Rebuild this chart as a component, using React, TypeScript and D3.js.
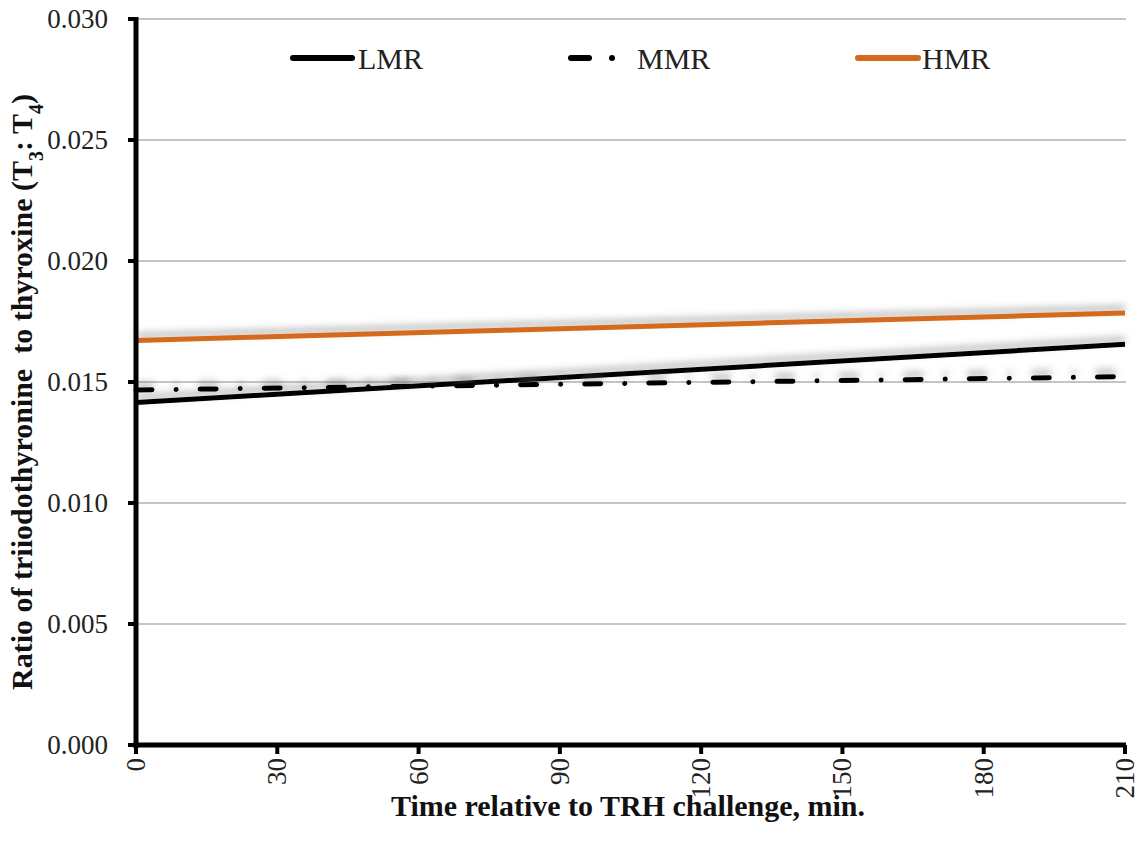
import React from "react";
import * as d3 from "d3";

const times = [0, 210];
const lmr = [0.01415, 0.01656];
const mmr = [0.01467, 0.01522];
const hmr = [0.01672, 0.01785];
const yTicks = [0, 0.005, 0.01, 0.015, 0.02, 0.025, 0.03];
const xTicks = [0, 30, 60, 90, 120, 150, 180, 210];
const seriesNames = ["LMR", "MMR", "HMR"];

const W = 1145;
const H = 851;
const FONT = "'Liberation Serif', 'Times New Roman', serif";
const ORANGE = "#D5691E";

export default function App() {
  const x = d3.scaleLinear().domain([0, 210]).range([136, 1125]);
  const y = d3.scaleLinear().domain([0, 0.03]).range([745, 19]);
  const line = d3
    .line<number>()
    .x((_, i) => x(times[i]))
    .y((d) => y(d));

  return (
    <svg
      width={W}
      height={H}
      style={{ position: "absolute", left: 0, top: 0, background: "#fff" }}
      fontFamily={FONT}
    >
      <defs>
        <filter id="shadow" x="-5%" y="-200%" width="110%" height="500%">
          <feGaussianBlur in="SourceAlpha" stdDeviation="3.5" result="b" />
          <feOffset in="b" dy="-5" result="o" />
          <feFlood floodColor="#666" floodOpacity="0.5" result="f" />
          <feComposite in="f" in2="o" operator="in" result="s" />
          <feMerge>
            <feMergeNode in="s" />
            <feMergeNode in="SourceGraphic" />
          </feMerge>
        </filter>
      </defs>
      <rect width={W} height={H} fill="#fff" />
      {/* grid */}
      {yTicks
        .filter((t) => t > 0)
        .map((t) => (
          <line
            key={"g" + t}
            x1={136}
            x2={1126}
            y1={y(t)}
            y2={y(t)}
            stroke="#8c8c8c"
            strokeWidth={1.2}
          />
        ))}
      {/* series */}
      <path
        d={line(hmr) || ""}
        fill="none"
        stroke={ORANGE}
        strokeWidth={5}
        filter="url(#shadow)"
      />
      <path
        d={line(lmr) || ""}
        fill="none"
        stroke="#000"
        strokeWidth={5}
        filter="url(#shadow)"
      />
      <path
        d={line(mmr) || ""}
        fill="none"
        stroke="#000"
        strokeWidth={5}
        strokeDasharray="16 24 0.1 24"
        strokeLinecap="round"
        filter="url(#shadow)"
      />
      {/* axes */}
      <line x1={136} x2={136} y1={17} y2={748} stroke="#000" strokeWidth={5} />
      <line x1={133.5} x2={1126} y1={745} y2={745} stroke="#000" strokeWidth={5} />
      {yTicks.map((t) => (
        <g key={"yt" + t}>
          <line x1={128} x2={136} y1={y(t)} y2={y(t)} stroke="#000" strokeWidth={4} />
          <text
            x={108}
            y={y(t)}
            textAnchor="end"
            dominantBaseline="central"
            fontSize={27}
            fill="#222"
          >
            {d3.format(".3f")(t)}
          </text>
        </g>
      ))}
      {xTicks.map((t) => (
        <g key={"xt" + t}>
          <line x1={x(t)} x2={x(t)} y1={745} y2={754} stroke="#000" strokeWidth={4} />
          <text
            transform={`translate(${x(t)},758) rotate(-90)`}
            textAnchor="end"
            dominantBaseline="central"
            fontSize={27}
            fill="#222"
          >
            {t}
          </text>
        </g>
      ))}
      {/* axis titles */}
      <text
        x={628}
        y={816}
        textAnchor="middle"
        fontSize={30}
        fontWeight="bold"
        fill="#111"
      >
        Time relative to TRH challenge, min.
      </text>
      <text
        transform="translate(32,392) rotate(-90)"
        textAnchor="middle"
        fontSize={30}
        fontWeight="bold"
        fill="#111"
        style={{ whiteSpace: "pre" }}
      >
        {"Ratio of triiodothyronine  to thyroxine (T"}
        <tspan baselineShift="sub" fontSize={20}>3</tspan>
        <tspan>{": T"}</tspan>
        <tspan baselineShift="sub" fontSize={20}>4</tspan>
        <tspan>)</tspan>
      </text>
      {/* legend */}
      <line x1={293} x2={352} y1={58} y2={58} stroke="#000" strokeWidth={6} strokeLinecap="round" />
      <text x={358} y={58} dominantBaseline="central" fontSize={30} fill="#222">
        {seriesNames[0]}
      </text>
      <line x1={571} x2={589} y1={58} y2={58} stroke="#000" strokeWidth={6} strokeLinecap="round" />
      <circle cx={612} cy={58} r={3} fill="#000" />
      <text x={637} y={58} dominantBaseline="central" fontSize={30} fill="#222">
        {seriesNames[1]}
      </text>
      <line x1={858} x2={918} y1={58} y2={58} stroke={ORANGE} strokeWidth={6} strokeLinecap="round" />
      <text x={922} y={58} dominantBaseline="central" fontSize={30} fill="#222">
        {seriesNames[2]}
      </text>
    </svg>
  );
}
